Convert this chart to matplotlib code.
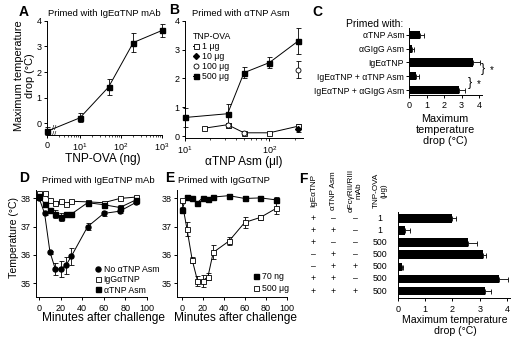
import numpy as np
import matplotlib.pyplot as plt
from matplotlib.ticker import NullFormatter, FixedLocator

plt.rcParams['font.family'] = ['Liberation Sans', 'DejaVu Sans']
plt.rcParams['mathtext.fontset'] = 'custom'
plt.rcParams['mathtext.rm'] = 'Liberation Sans'
plt.rcParams['axes.linewidth'] = 0.7
plt.rcParams['xtick.major.width'] = 0.7
plt.rcParams['ytick.major.width'] = 0.7
plt.rcParams['xtick.minor.width'] = 0.5
plt.rcParams['xtick.major.size'] = 2.5
plt.rcParams['ytick.major.size'] = 2.5
plt.rcParams['xtick.minor.size'] = 1.5
plt.rcParams['xtick.labelsize'] = 6.5
plt.rcParams['ytick.labelsize'] = 6.5
plt.rcParams['xtick.major.pad'] = 2
plt.rcParams['ytick.major.pad'] = 1.5

# A: primed with IgE anti-TNP mAb, dose of TNP-OVA
a_dose = [0, 10, 50, 200, 1000]
a_drop = [-0.3, 0.22, 1.42, 3.15, 3.62]
a_err = [0.15, 0.18, 0.3, 0.36, 0.27]

# B: primed with anti-TNP antiserum
b_x1 = [17, 32, 50, 100, 220]
b_y1 = [0.28, 0.4, 0.12, 0.12, 0.35]
b_e1 = [0.04, 0.05, 0.04, 0.04, 0.06]
b_x10 = [220]
b_y10 = [0.25]
b_e10 = [0.1]
b_x100 = [32, 50, 220]
b_y100 = [0.38, 0.12, 2.3]
b_e100 = [0.08, 0.03, 0.3]
b_x500 = [10, 32, 50, 100, 220]
b_y500 = [0.65, 0.78, 2.2, 2.55, 3.3]
b_e500 = [0.33, 0.35, 0.2, 0.18, 0.45]

# C
c_labels = ['αTNP Asm', 'αGIgG Asm', 'IgEαTNP', 'IgEαTNP + αTNP Asm', 'IgEαTNP + αGIgG Asm']
c_drop = [0.6, 0.15, 3.65, 0.38, 2.88]
c_err = [0.28, 0.15, 0.4, 0.17, 0.32]

# D / E time courses
times = [0, 5, 10, 15, 20, 25, 30, 45, 60, 75, 90]
d_no = [38.0, 37.47, 36.1, 35.5, 35.5, 35.64, 35.96, 37.0, 37.47, 37.55, 37.86]
d_no_err = [0.05, 0.05, 0.05, 0.2, 0.28, 0.3, 0.3, 0.12, 0.08, 0.08, 0.05]
d_igg = [38.18, 38.2, 37.95, 37.85, 37.9, 37.8, 37.9, 37.88, 37.85, 38.0, 38.05]
d_igg_err = [0.05, 0.03, 0.03, 0.03, 0.03, 0.03, 0.03, 0.03, 0.03, 0.03, 0.03]
d_asm = [38.1, 37.8, 37.6, 37.45, 37.35, 37.46, 37.45, 37.85, 37.78, 37.68, 37.95]
d_asm_err = [0.1, 0.05, 0.08, 0.15, 0.15, 0.05, 0.05, 0.05, 0.05, 0.08, 0.05]

e_70 = [37.6, 38.06, 38.0, 37.85, 38.03, 37.98, 38.05, 38.1, 38.0, 38.02, 37.95]
e_70_err = [0.1, 0.03, 0.03, 0.03, 0.03, 0.03, 0.05, 0.05, 0.08, 0.05, 0.1]
e_500 = [37.94, 36.92, 35.82, 35.09, 35.08, 35.23, 36.09, 36.49, 37.15, 37.33, 37.65]
e_500_err = [0.05, 0.25, 0.1, 0.18, 0.2, 0.12, 0.25, 0.15, 0.2, 0.08, 0.2]

# F
f_ige = ['+', '+', '+', '–', '–', '+', '+']
f_asm = ['–', '+', '–', '+', '+', '+', '+']
f_fcg = ['–', '–', '–', '–', '+', '–', '+']
f_ova = ['1', '1', '500', '500', '500', '500', '500']
f_drop = [2.0, 0.28, 2.57, 3.13, 0.14, 3.69, 3.2]
f_err = [0.12, 0.16, 0.32, 0.09, 0.06, 0.32, 0.22]
f_heads = ['IgEαTNP', 'αTNP Asm', 'αFcγRII/RIII\nmAb', 'TNP-OVA\n(μg)']

W, H = 519, 338
fig = plt.figure(figsize=(W / 100, H / 100), dpi=100)


def box(x0, y0, x1, y1):
    return [x0 / W, 1 - y1 / H, (x1 - x0) / W, (y1 - y0) / H]


def ftext(x, y, s, **kw):
    kw.setdefault('ha', 'center')
    kw.setdefault('va', 'center')
    fig.text(x / W, 1 - y / H, s, **kw)


def clean(ax):
    ax.spines['top'].set_visible(False)
    ax.spines['right'].set_visible(False)


ms = 3.6
eb = dict(color='black', lw=0.7, elinewidth=0.6, capsize=1.8, capthick=0.6, clip_on=False)

# ---- A
ax = fig.add_axes(box(47, 20.7, 162, 135))
clean(ax)
ax_x = np.where(np.array(a_dose) == 0, 1.6, a_dose)
ax.errorbar(ax_x, a_drop, yerr=a_err, marker='s', ms=ms, mfc='black', mec='black', **eb)
ax.set_xscale('log')
ax.set_xlim(1.57, 1000)
ax.set_ylim(-0.45, 4)
ax.set_yticks([0, 1, 2, 3, 4])
ax.set_xticks([1.6, 10, 100, 1000])
ax.set_xticklabels(['0', '$10^1$', '$10^2$', '$10^3$'])
ax.xaxis.set_minor_locator(FixedLocator([3, 4, 5, 6, 7, 8, 9, 20, 30, 40, 50, 60, 70, 80, 90,
                                         200, 300, 400, 500, 600, 700, 800, 900]))
ax.xaxis.set_minor_formatter(NullFormatter())
xb = 10 ** 0.38
yb = np.interp(np.log10(xb), np.log10(ax_x[:2]), a_drop[:2])
ax.text(xb, yb, '//', fontsize=5.5, ha='center', va='center')
ax.text(xb, -0.45, '//', fontsize=5.5, ha='center', va='center', clip_on=False)
ftext(24, 12, 'A', fontsize=10, fontweight='bold')
ftext(104, 14, 'Primed with IgEαTNP mAb', fontsize=6.8)
ftext(103, 159, 'TNP-OVA (ng)', fontsize=8.6)
ftext(24.5, 76, 'Maximum temperature\ndrop (°C)', fontsize=7.9, rotation=90, linespacing=1.1)

# ---- B
ax = fig.add_axes(box(185, 20.7, 303, 138))
clean(ax)
ax.errorbar(b_x1, b_y1, yerr=b_e1, marker='s', ms=ms, mfc='white', mec='black', mew=0.6,
            label='1 μg', **eb)
ax.errorbar(b_x10, b_y10, yerr=b_e10, marker='D', ms=3, mfc='black', mec='black', ls='none',
            label='10 μg', **eb)
ax.errorbar(b_x100, b_y100, yerr=b_e100, marker='o', ms=ms, mfc='white', mec='black', mew=0.6,
            ls='none', label='100 μg', **eb)
ax.errorbar(b_x500, b_y500, yerr=b_e500, marker='s', ms=ms, mfc='black', mec='black',
            label='500 μg', **eb)
ax.set_xscale('log')
ax.set_xlim(10, 250)
ax.set_ylim(-0.06, 4)
ax.set_yticks([0, 1, 2, 3, 4])
ax.set_xticks([10, 100])
ax.set_xticklabels(['$10^1$', '$10^2$'])
ax.xaxis.set_minor_locator(FixedLocator([20, 30, 40, 50, 60, 70, 80, 90, 200]))
ax.xaxis.set_minor_formatter(NullFormatter())
hs, ls_ = ax.get_legend_handles_labels()
hs = [h[0] for h in hs]
ax.legend(hs, ls_, title='TNP-OVA', loc='upper left', bbox_to_anchor=(0.03, 0.94),
          frameon=False, fontsize=6.3, title_fontsize=6.3, handlelength=0.6,
          handletextpad=0.4, labelspacing=0.1, borderpad=0, alignment='left')
ftext(174, 10, 'B', fontsize=10, fontweight='bold')
ftext(241, 14, 'Primed with αTNP Asm', fontsize=6.8)
ftext(244, 162, 'αTNP Asm (μl)', fontsize=8.6)

# ---- C
ax = fig.add_axes(box(409, 28, 481.7, 95))
clean(ax)
cy = np.arange(len(c_labels))
ax.barh(cy, c_drop, height=0.6, color='black')
ax.errorbar(c_drop, cy, xerr=[np.zeros(len(c_err)), c_err], fmt='none', ecolor='black',
            elinewidth=0.6, capsize=1.8, capthick=0.6, clip_on=False)
ax.set_ylim(4.36, -0.5)
ax.set_xlim(0, 4.15)
ax.set_yticks(cy)
ax.set_yticklabels(c_labels, fontsize=6.2)
ax.set_xticks([0, 1, 2, 3, 4])
ax.tick_params(axis='y', length=2)
ax.text(4.22, 2.5, '}', fontsize=9, ha='center', va='center', clip_on=False)
ax.text(4.75, 2.55, '*', fontsize=7, ha='center', va='center', clip_on=False)
ax.text(3.49, 3.5, '}', fontsize=9, ha='center', va='center', clip_on=False)
ax.text(4.0, 3.55, '*', fontsize=7, ha='center', va='center', clip_on=False)
ftext(317, 12, 'C', fontsize=10, fontweight='bold')
ftext(375, 24, 'Primed with:', fontsize=7.5)
ftext(445, 130, 'Maximum\ntemperature\ndrop (°C)', fontsize=7.8, linespacing=1.15)

# ---- D
ax = fig.add_axes(box(36, 190, 146.7, 297.3))
clean(ax)
ax.errorbar(times, d_no, yerr=d_no_err, marker='o', ms=ms, mfc='black', mec='black',
            label='No αTNP Asm', **eb)
ax.errorbar(times, d_igg, yerr=d_igg_err, marker='s', ms=ms, mfc='white', mec='black', mew=0.6,
            label='IgGαTNP', **eb)
ax.errorbar(times, d_asm, yerr=d_asm_err, marker='s', ms=ms, mfc='black', mec='black',
            label='αTNP Asm', **eb)
ax.set_xlim(-3, 100)
ax.set_ylim(34.5, 38.3)
ax.set_xticks([0, 20, 40, 60, 80, 100])
ax.set_yticks([35, 36, 37, 38])
hs, ls_ = ax.get_legend_handles_labels()
hs = [h[0] for h in hs]
ax.legend(hs, ls_, loc='lower left', bbox_to_anchor=(0.5, -0.015), frameon=False, fontsize=6.3,
          handlelength=0.6, handletextpad=0.3, labelspacing=0.15, borderpad=0)
for h in ax.get_legend().legend_handles:
    h.set_linestyle('none')
ftext(24, 178, 'D', fontsize=10, fontweight='bold')
ftext(98, 180, 'Primed with IgEαTNP mAb', fontsize=6.8)
ftext(103, 318, 'Minutes after challenge', fontsize=8.6)
ftext(14, 238, 'Temperature (°C)', fontsize=7.6, rotation=90)

# ---- E
ax = fig.add_axes(box(177, 190, 286.7, 297.3))
clean(ax)
ax.errorbar(times, e_70, yerr=e_70_err, marker='s', ms=ms, mfc='black', mec='black',
            label='70 ng', **eb)
ax.errorbar(times, e_500, yerr=e_500_err, marker='s', ms=ms, mfc='white', mec='black', mew=0.6,
            label='500 μg', **eb)
ax.set_xlim(-4.5, 100)
ax.set_ylim(34.5, 38.3)
ax.set_xticks([0, 20, 40, 60, 80, 100])
ax.set_yticks([35, 36, 37, 38])
hs, ls_ = ax.get_legend_handles_labels()
hs = [h[0] for h in hs]
ax.legend(hs, ls_, loc='lower left', bbox_to_anchor=(0.66, 0.0), frameon=False, fontsize=6.3,
          handlelength=0.6, handletextpad=0.3, labelspacing=0.35, borderpad=0)
for h in ax.get_legend().legend_handles:
    h.set_linestyle('none')
ftext(170, 178, 'E', fontsize=10, fontweight='bold')
ftext(224, 180, 'Primed with IgGαTNP', fontsize=6.8)
ftext(236, 318, 'Minutes after challenge', fontsize=8.6)

# ---- F
ax = fig.add_axes(box(397.7, 212.2, 510, 298.3))
clean(ax)
fy = np.arange(len(f_drop))
ax.barh(fy, f_drop, height=0.7, color='black')
ax.errorbar(f_drop, fy, xerr=[np.zeros(len(f_err)), f_err], fmt='none', ecolor='black',
            elinewidth=0.6, capsize=1.8, capthick=0.6, clip_on=False)
ax.set_ylim(6.6, -0.5)
ax.set_xlim(0, 4.1)
ax.set_xticks([0, 1, 2, 3, 4])
ax.set_yticks([])
tr = ax.get_yaxis_transform()
cols_x = [-0.752, -0.574, -0.38, -0.157]
for cx, col in zip(cols_x, [f_ige, f_asm, f_fcg, f_ova]):
    for yy, s in zip(fy, col):
        ax.text(cx, yy, s, transform=tr, fontsize=6.3, ha='center', va='center', clip_on=False)
for cx, hd in zip(cols_x, f_heads):
    ax.text(cx, -2.3, hd, transform=tr, fontsize=5.9, rotation=90, ha='center', va='center',
            multialignment='center', linespacing=1.0, clip_on=False)
ftext(303, 179, 'F', fontsize=10, fontweight='bold')
ftext(455, 325.5, 'Maximum temperature\ndrop (°C)', fontsize=7.6, linespacing=1.1)

fig.savefig('out.png', dpi=100)
